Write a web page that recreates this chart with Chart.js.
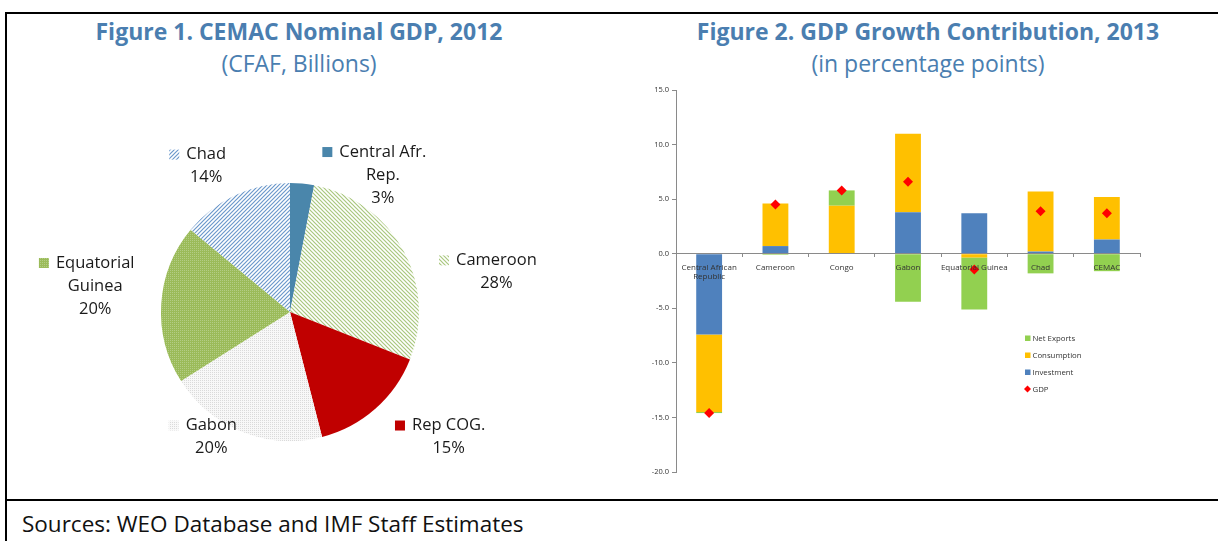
<!DOCTYPE html>
<html>
<head>
<meta charset="utf-8">
<script src="https://cdn.jsdelivr.net/npm/chart.js@4.4.1/dist/chart.umd.min.js"></script>
<style>
  html, body { margin: 0; padding: 0; background: #fff; }
  body { width: 1218px; height: 541px; position: relative; overflow: hidden; font-family: "Open Sans", Lato, sans-serif; }
  .rule { position: absolute; background: #000; }
  .title { position: absolute; text-align: center; color: #4A7EB0; white-space: nowrap; }
  .title b { display: block; font-size: 23px; font-weight: 700; line-height: 32px; }
  .title span { display: block; font-size: 23px; line-height: 32px; }
  #src { position: absolute; left: 22px; top: 508px; font-size: 22.5px; color: #111; white-space: nowrap; }
  canvas { position: absolute; }
</style>
</head>
<body>
<div class="rule" style="left:5px; top:12px; width:1213px; height:2px"></div>
<div class="rule" style="left:5px; top:12px; width:2px; height:529px"></div>
<div class="rule" style="left:5px; top:499px; width:1213px; height:2px"></div>

<div class="title" style="left:8px; width:582px; top:15px"><b>Figure 1. CEMAC Nominal GDP, 2012</b><span>(CFAF, Billions)</span></div>
<div class="title" style="left:640px; width:576px; top:15px"><b>Figure 2. GDP Growth Contribution, 2013</b><span>(in percentage points)</span></div>
<div id="src">Sources: WEO Database and IMF Staff Estimates</div>

<canvas id="pieChart" width="590" height="415" style="left:8px; top:80px"></canvas>
<canvas id="barChart" width="530" height="400" style="left:620px; top:80px"></canvas>

<script>
// Figure 1: share of nominal GDP, 2012 (percent), clockwise from 12 o'clock
const pieCountries = [['Central Afr.', 'Rep.'], ['Cameroon'], ['Rep COG.'], ['Gabon'], ['Equatorial', 'Guinea'], ['Chad']];
const gdpShares = [3, 28, 15, 20, 20, 14];

// Figure 2: contributions to real GDP growth, 2013 (percentage points)
const growthCountries = [['Central African', 'Republic'], 'Cameroon', 'Congo', 'Gabon', 'Equatorial Guinea', 'Chad', 'CEMAC'];
const investment = [-7.4, 0.7, 0.0, 3.8, 3.7, 0.2, 1.3];
const consumption = [-7.1, 3.9, 4.4, 7.2, -0.35, 5.5, 3.9];
const netExports = [-0.1, -0.1, 1.4, -4.4, -4.75, -1.8, -1.6];
const gdpGrowth = [-14.6, 4.5, 5.8, 6.6, -1.45, 3.9, 3.7];
const growthTicks = [-20, -15, -10, -5, 0, 5, 10, 15];

Chart.defaults.font.family = '"Open Sans", Lato, sans-serif';
Chart.defaults.color = '#333';

// --- fill patterns for the pie slices ---
function tile(size, draw) {
  const c = document.createElement('canvas');
  c.width = c.height = size;
  draw(c.getContext('2d'));
  return document.createElement('canvas').getContext('2d').createPattern(c, 'repeat');
}
function stripes(color, up) {
  return tile(4, g => {
    g.fillStyle = '#fff';
    g.fillRect(0, 0, 4, 4);
    g.strokeStyle = color;
    g.lineWidth = 1.2;
    g.beginPath();
    if (up) {
      g.moveTo(-1, 5); g.lineTo(5, -1);
      g.moveTo(-1, 1); g.lineTo(1, -1);
      g.moveTo(3, 5); g.lineTo(5, 3);
    } else {
      g.moveTo(-1, -1); g.lineTo(5, 5);
      g.moveTo(-1, 3); g.lineTo(1, 5);
      g.moveTo(3, -1); g.lineTo(5, 1);
    }
    g.stroke();
  });
}
function dots(bg, dot) {
  return tile(2, g => {
    g.fillStyle = bg;
    g.fillRect(0, 0, 2, 2);
    g.fillStyle = dot;
    g.fillRect(0, 0, 1, 1);
  });
}
const sliceFills = [
  '#4A86AB',
  stripes('#A9C77E', false),
  '#C00000',
  dots('#F8F8F8', '#DADADA'),
  dots('#9BBB59', '#B3CD85'),
  stripes('#6B98CB', true)
];

// label anchors around the pie, in units of the radius from the centre
const labelSpots = [[0.72, -1.24], [1.60, -0.40], [1.23, 0.88], [-0.61, 0.88], [-1.51, -0.38], [-0.65, -1.22]];

const pieLabels = {
  id: 'pieLabels',
  afterDatasetsDraw(chart) {
    const ctx = chart.ctx;
    const total = gdpShares.reduce((a, b) => a + b, 0);
    chart.getDatasetMeta(0).data.forEach((arc, i) => {
      const x = arc.x + labelSpots[i][0] * arc.outerRadius;
      const y = arc.y + labelSpots[i][1] * arc.outerRadius;
      const lines = pieCountries[i].concat(Math.round(gdpShares[i] / total * 100) + '%');
      ctx.save();
      ctx.font = '16.5px "Open Sans"';
      ctx.fillStyle = '#1a1a1a';
      ctx.textAlign = 'center';
      ctx.textBaseline = 'middle';
      lines.forEach((t, j) => ctx.fillText(t, x, y + j * 23));
      const w = ctx.measureText(lines[0]).width;
      ctx.fillStyle = sliceFills[i];
      ctx.fillRect(x - w / 2 - 17, y - 5, 10, 10);
      ctx.restore();
    });
  }
};

new Chart(document.getElementById('pieChart'), {
  type: 'pie',
  data: {
    labels: pieCountries.map(l => l.join(' ')),
    datasets: [{
      data: gdpShares,
      backgroundColor: sliceFills,
      borderWidth: 0
    }]
  },
  options: {
    responsive: false,
    animation: false,
    layout: { padding: { left: 153, right: 179, top: 103, bottom: 54 } },
    plugins: { legend: { display: false }, tooltip: { enabled: false } }
  },
  plugins: [pieLabels]
});

// legend drawn inside the plot area, stacked series listed top-down
const innerLegend = {
  id: 'innerLegend',
  afterDraw(chart) {
    const ctx = chart.ctx;
    const area = chart.chartArea;
    const items = chart.data.datasets.slice(0, 3).reverse().concat(chart.data.datasets[3]);
    ctx.save();
    ctx.font = '7.8px "Open Sans"';
    ctx.textBaseline = 'middle';
    items.forEach((ds, i) => {
      const x = area.left + 349;
      const y = area.top + 248 + i * 17;
      ctx.fillStyle = ds.backgroundColor;
      if (ds.type === 'line') {
        ctx.beginPath();
        ctx.moveTo(x + 2.5, y - 3.5); ctx.lineTo(x + 6, y); ctx.lineTo(x + 2.5, y + 3.5); ctx.lineTo(x - 1, y);
        ctx.closePath();
        ctx.fill();
      } else {
        ctx.fillRect(x, y - 2.5, 5.5, 5.5);
      }
      ctx.fillStyle = '#333';
      ctx.fillText(ds.label, x + 7.5, y + 0.5);
    });
    ctx.restore();
  }
};

new Chart(document.getElementById('barChart'), {
  type: 'bar',
  data: {
    labels: growthCountries,
    datasets: [
      { label: 'Investment', data: investment, backgroundColor: '#4F81BD', order: 1 },
      { label: 'Consumption', data: consumption, backgroundColor: '#FFC000', order: 1 },
      { label: 'Net Exports', data: netExports, backgroundColor: '#92D050', order: 1 },
      {
        type: 'line', label: 'GDP', data: gdpGrowth, stack: 'gdp', order: 0,
        showLine: false, pointStyle: 'rectRot', pointRadius: 5,
        backgroundColor: '#FF0000', borderColor: '#FF0000', borderWidth: 0
      }
    ]
  },
  options: {
    responsive: false,
    animation: false,
    layout: { padding: { left: 0, right: 10, top: 10, bottom: 8 } },
    datasets: { bar: { barPercentage: 0.39, categoryPercentage: 1, borderWidth: 0 } },
    scales: {
      x: {
        stacked: true,
        position: { y: 0 },
        grid: { offset: true, drawOnChartArea: false, tickLength: 3, color: '#8a8a8a', z: 1 },
        border: { color: '#8a8a8a', z: 1 },
        ticks: { font: { size: 8 }, color: '#333', padding: 6, maxRotation: 0, autoSkip: false, z: 1 }
      },
      y: {
        stacked: true,
        min: growthTicks[0],
        max: growthTicks[growthTicks.length - 1],
        afterFit(scale) { scale.width = 56; },
        afterBuildTicks(scale) { scale.ticks = growthTicks.map(v => ({ value: v })); },
        grid: { drawOnChartArea: false, tickLength: 4, color: '#8a8a8a' },
        border: { color: '#8a8a8a' },
        ticks: { font: { size: 7.5 }, color: '#333', padding: 3, callback: v => v.toFixed(1) }
      }
    },
    plugins: { legend: { display: false }, tooltip: { enabled: false } }
  },
  plugins: [innerLegend]
});
</script>
</body>
</html>
